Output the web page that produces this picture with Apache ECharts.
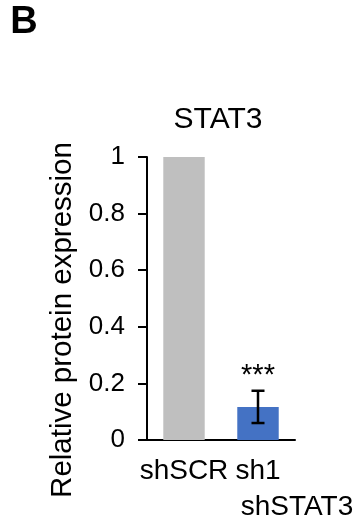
<!DOCTYPE html>
<html>
<head>
<meta charset="utf-8">
<script src="https://cdn.jsdelivr.net/npm/echarts@6/dist/echarts.min.js"></script>
<style>html,body{margin:0;padding:0;background:#fff;}#c{width:356px;height:526px;}</style>
</head>
<body>
<div id="c"></div>
<script>
var categories = ['shSCR', 'sh1'];
var values = [1, 0.117];
var errors = [0, 0.057];
var significance = ['', '***'];
var barColors = ['#BFBFBF', '#4472C4'];
var groupLabel = 'shSTAT3';
var chartTitle = 'STAT3';
var panelLetter = 'B';
var yAxisName = 'Relative protein expression';

var FONT = 'Liberation Sans, Arial, sans-serif';
var chart = echarts.init(document.getElementById('c'), null, {renderer: 'canvas'});

var barData = values.map(function (v, i) {
  return {
    value: v,
    itemStyle: {color: barColors[i]},
    label: {
      show: !!significance[i],
      formatter: significance[i],
      position: 'top',
      distance: 16,
      fontSize: 29,
      color: '#000',
      fontFamily: FONT
    }
  };
});

var errData = values.map(function (v, i) { return [i, v - errors[i], v + errors[i]]; })
  .filter(function (d, i) { return errors[i] > 0; });

chart.setOption({
  animation: false,
  grid: {left: 147, right: 61, top: 157, bottom: 86, containLabel: false},
  graphic: [
    {type: 'text', x: 24, y: 23, style: {text: panelLetter, font: 'bold 38px ' + FONT, fill: '#000', textAlign: 'center', textVerticalAlign: 'middle'}},
    {type: 'text', x: 218, y: 120, style: {text: chartTitle, font: '30px ' + FONT, fill: '#000', textAlign: 'center', textVerticalAlign: 'middle'}},
    {type: 'text', x: 297, y: 507, style: {text: groupLabel, font: '28px ' + FONT, fill: '#000', textAlign: 'center', textVerticalAlign: 'middle'}},
    {type: 'text', x: 63, y: 320, rotation: Math.PI / 2, style: {text: yAxisName, font: '29.5px ' + FONT, fill: '#000', textAlign: 'center', textVerticalAlign: 'middle'}}
  ],
  xAxis: {
    type: 'category',
    data: categories,
    axisLine: {lineStyle: {color: '#000', width: 2}},
    axisTick: {show: false},
    axisLabel: {color: '#000', fontSize: 28, fontFamily: FONT, margin: 17, interval: 0,
      formatter: function (v) { return v; }}
  },
  yAxis: {
    type: 'value',
    min: 0, max: 1, interval: 0.2,
    axisLine: {show: true, lineStyle: {color: '#000', width: 2}},
    axisTick: {show: true, length: 9, lineStyle: {color: '#000', width: 2}},
    axisLabel: {color: '#000', fontSize: 26, fontFamily: FONT, margin: 22},
    splitLine: {show: false}
  },
  series: [
    {
      type: 'bar',
      data: barData,
      barWidth: '56%'
    },
    {
      type: 'custom',
      data: errData,
      z: 10,
      renderItem: function (params, api) {
        var x = api.value(0);
        var lo = api.coord([x, api.value(1)]);
        var hi = api.coord([x, api.value(2)]);
        var hw = 6.5;
        var st = {stroke: '#000', lineWidth: 2.5};
        return {
          type: 'group',
          children: [
            {type: 'line', shape: {x1: lo[0], y1: lo[1], x2: hi[0], y2: hi[1]}, style: st},
            {type: 'line', shape: {x1: lo[0] - hw, y1: lo[1], x2: lo[0] + hw, y2: lo[1]}, style: st},
            {type: 'line', shape: {x1: hi[0] - hw, y1: hi[1], x2: hi[0] + hw, y2: hi[1]}, style: st}
          ]
        };
      }
    }
  ]
});
</script>
</body>
</html>
